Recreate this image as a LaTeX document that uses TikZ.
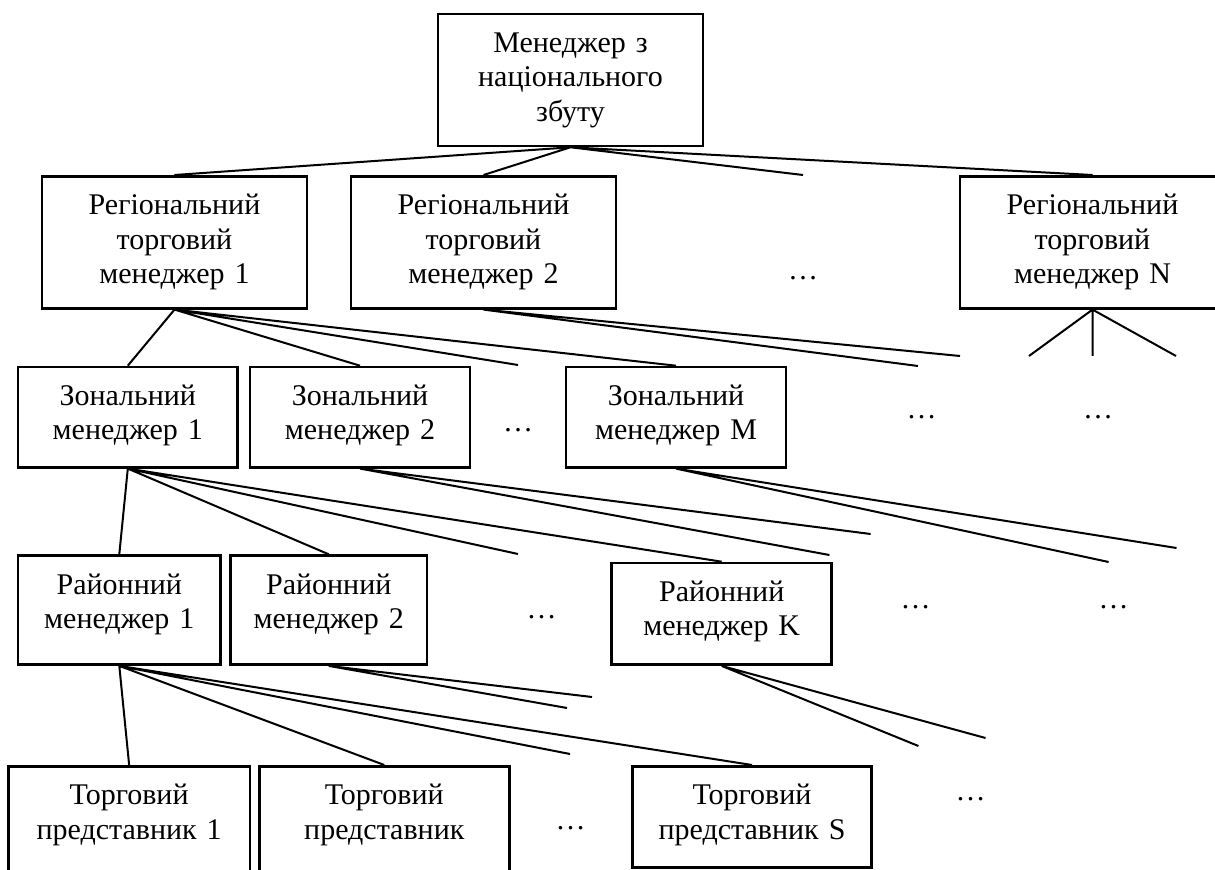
\documentclass[tikz,border=0pt]{standalone}
\usepackage{fontspec}
\setmainfont{Liberation Serif}
\begin{document}
\begin{tikzpicture}[x=0.5pt,y=-0.5pt,line width=1pt,
  every node/.style={font=\fontsize{15}{17.25}\selectfont},
  box/.style={draw,line width=1.3pt,anchor=north,inner sep=0pt,align=center,text height=19.25pt},
  dots/.style={inner sep=0pt}]
\useasboundingbox (0,0) rectangle (1215,870);
\node[box,text width=132.5pt,text depth=46.75pt](nat) at (570.5,12.7){Менеджер з\\національного\\збуту};
\node[box,text width=132.5pt,text depth=46.75pt](r1) at (174.5,175){Регіональний\\торговий\\менеджер 1};
\node[box,text width=132.5pt,text depth=46.75pt](r2) at (483.5,175){Регіональний\\торговий\\менеджер 2};
\node[box,text width=132.5pt,text depth=46.75pt](rn) at (1092.5,175){Регіональний\\торговий\\менеджер N};
\node[box,text width=109.8pt,text depth=30.9pt](z1) at (127.8,365.7){Зональний\\менеджер 1};
\node[box,text width=110pt,text depth=30.9pt](z2) at (360,365.7){Зональний\\менеджер 2};
\node[box,text width=110pt,text depth=30.9pt](zm) at (676,365.7){Зональний\\менеджер M};
\node[box,text width=101.3pt,text depth=35.25pt](ra1) at (119.3,554.3){Районний\\менеджер 1};
\node[box,text width=98.25pt,text depth=35.25pt](ra2) at (328.75,554.3){Районний\\менеджер 2};
\node[box,text width=110pt,text depth=31.55pt](rak) at (721.7,561.7){Районний\\менеджер K};
\node[box,text width=120.85pt,text depth=40pt](t1) at (129.15,765){Торговий\\представник 1};
\node[box,text width=125pt,text depth=40pt](t2) at (384.3,765){Торговий\\представник};
\node[box,text width=119.7pt,text depth=31.25pt](ts) at (752,765){Торговий\\представник S};
% free line ends
\coordinate (tf) at (803,175);
\coordinate (r1f) at (518,365);
\coordinate (r2a) at (960,356);
\coordinate (r2b) at (918,366);
\coordinate (rna) at (1029,356);
\coordinate (rnb) at (1092.5,356);
\coordinate (rnc) at (1176,356);
\coordinate (z1f) at (518,554);
\coordinate (z2a) at (870.6,534);
\coordinate (z2b) at (829.4,555);
\coordinate (zma) at (1176.5,548);
\coordinate (zmb) at (1108.6,562);
\coordinate (ra1f) at (570,754);
\coordinate (ra2a) at (592,697);
\coordinate (ra2b) at (567,708);
\coordinate (rka) at (985.5,738);
\coordinate (rkb) at (918.4,746);
\draw (nat.south)--(r1.north) (nat.south)--(r2.north) (nat.south)--(tf) (nat.south)--(rn.north);
\draw (r1.south)--(z1.north) (r1.south)--(z2.north) (r1.south)--(r1f) (r1.south)--(zm.north);
\draw (r2.south)--(r2a) (r2.south)--(r2b);
\draw (rn.south)--(rna) (rn.south)--(rnb) (rn.south)--(rnc);
\draw (z1.south)--(ra1.north) (z1.south)--(ra2.north) (z1.south)--(z1f) (z1.south)--(rak.north);
\draw (z2.south)--(z2a) (z2.south)--(z2b);
\draw (zm.south)--(zma) (zm.south)--(zmb);
\draw (ra1.south)--(t1.north) (ra1.south)--(t2.north) (ra1.south)--(ra1f) (ra1.south)--(ts.north);
\draw (ra2.south)--(ra2a) (ra2.south)--(ra2b);
\draw (rak.south)--(rka) (rak.south)--(rkb);
\node[dots](d1) at (803,278.3){…};
\node[dots](d2) at (518,430){…};
\node[dots](d3) at (921.6,416.7){…};
\node[dots](d4) at (1098,416.7){…};
\node[dots](d5) at (541.7,616.7){…};
\node[dots](d6) at (915.7,606.7){…};
\node[dots](d7) at (1113.7,606.7){…};
\node[dots](d8) at (570.6,828){…};
\node[dots](d9) at (970.6,799){…};
\end{tikzpicture}
\end{document}
